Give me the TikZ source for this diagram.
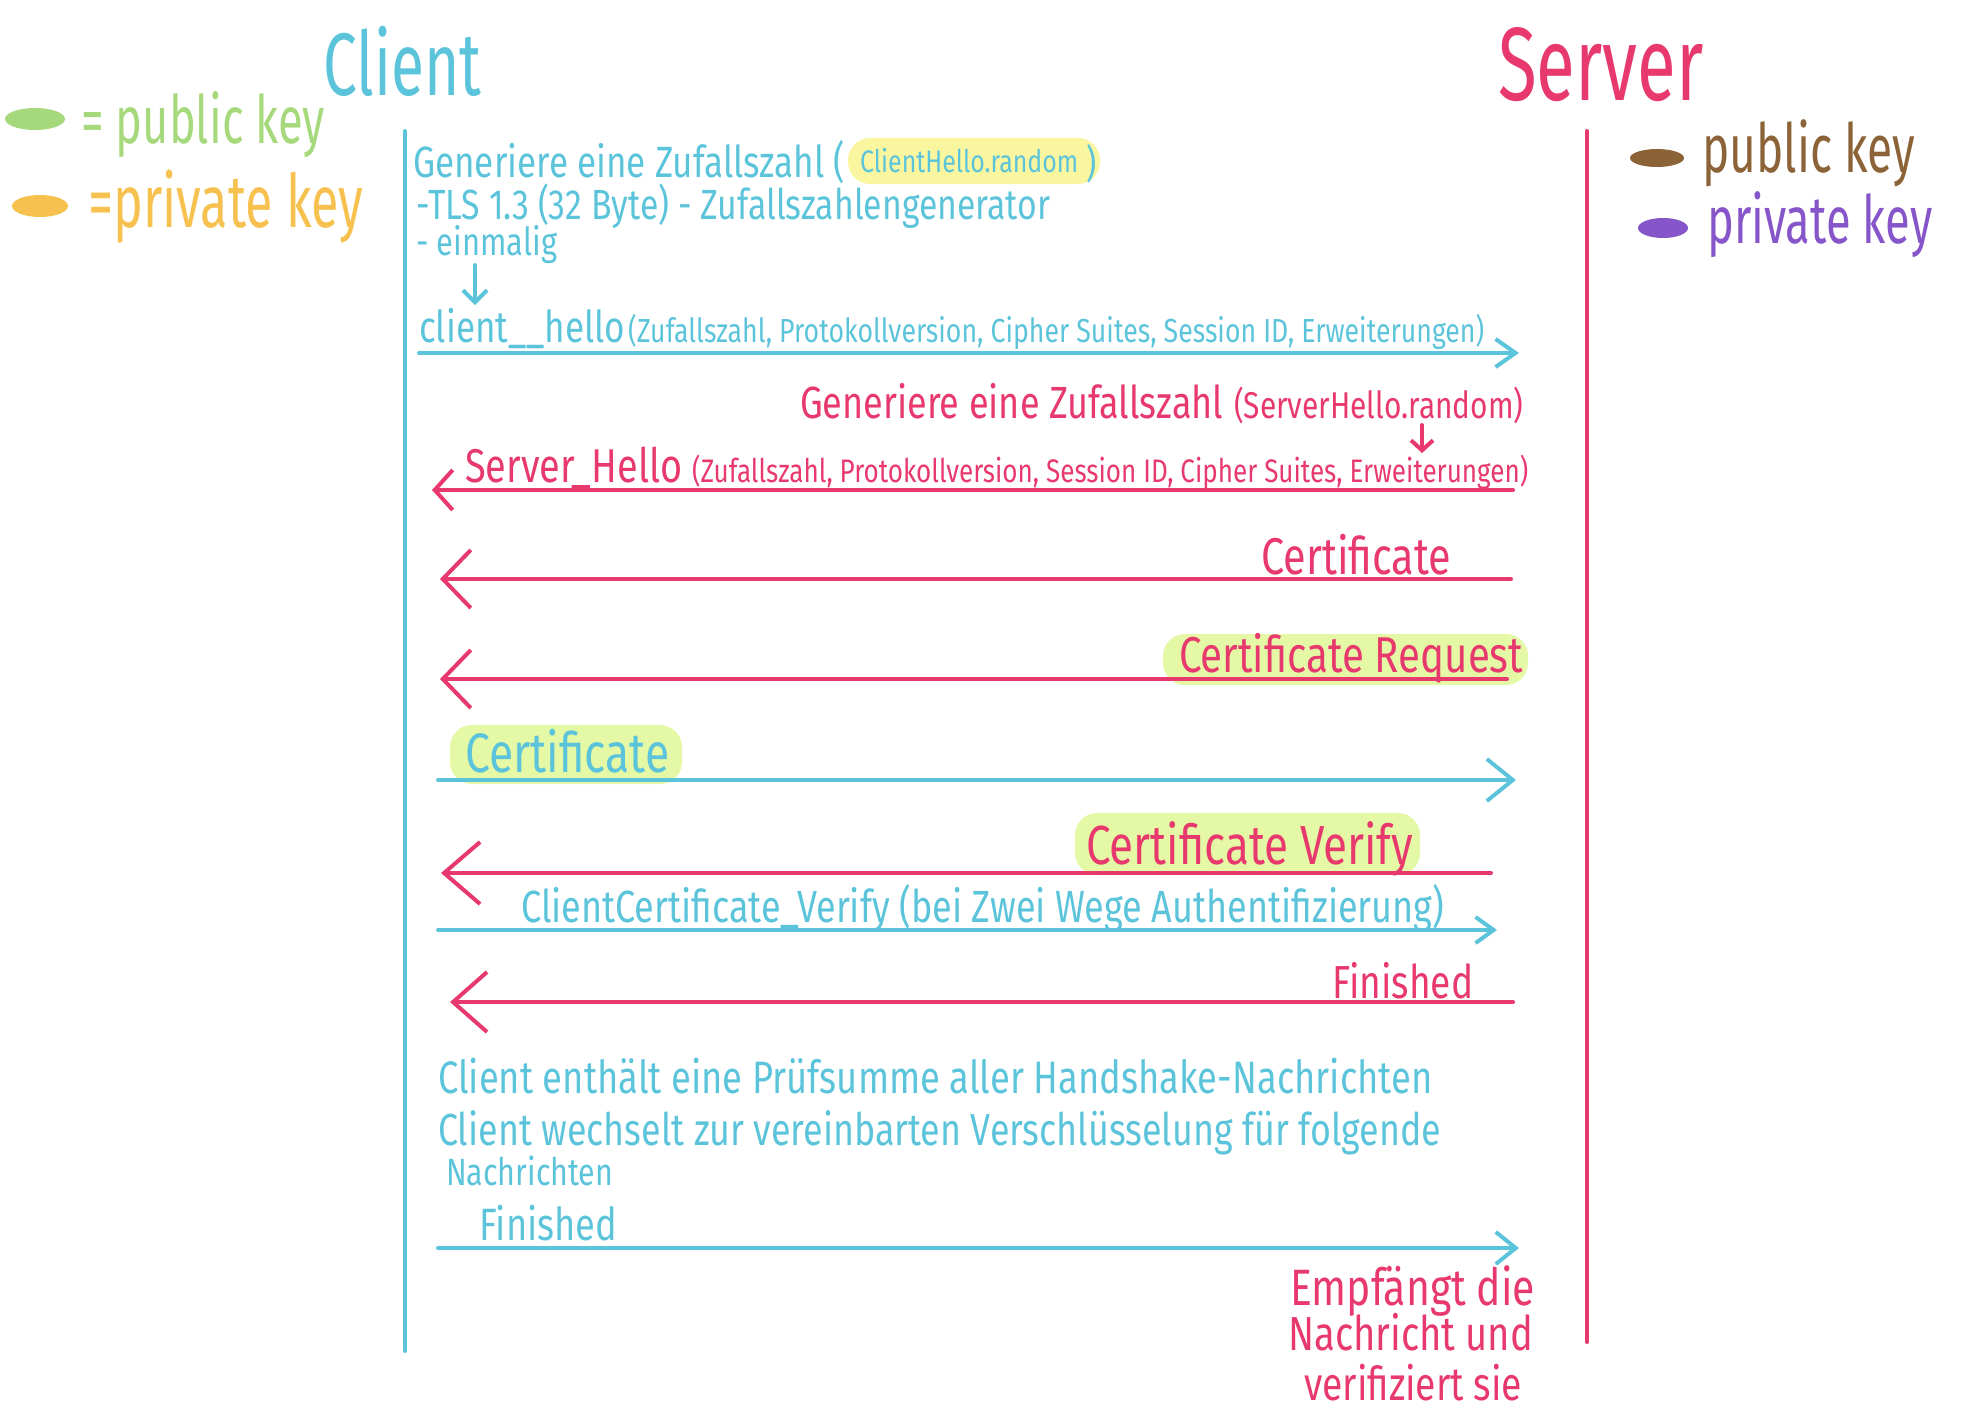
\documentclass[tikz,border=0pt]{standalone}
\usepackage{fontspec}
\setmainfont{Fira Sans}
\newfontfamily\hand[FakeStretch=0.8]{Fira Sans}
\newfontfamily\handtall[FakeStretch=0.68]{Fira Sans}
\usetikzlibrary{arrows.meta}
\definecolor{cblue}{RGB}{91,196,219}
\definecolor{cpink}{RGB}{232,57,111}
\definecolor{kgreen}{RGB}{166,217,124}
\definecolor{korange}{RGB}{246,193,79}
\definecolor{kbrown}{RGB}{139,99,55}
\definecolor{kpurple}{RGB}{134,85,201}
\definecolor{hlyellow}{RGB}{250,246,160}
\definecolor{hlgreen}{RGB}{228,248,165}
\newcommand{\fitw}[2]{\resizebox{#1pt}{!}{\hand #2}}
\newcommand{\fitt}[2]{\resizebox{#1pt}{!}{\handtall #2}}
\newcommand{\fith}[2]{\resizebox{!}{#1pt}{\hand #2}}
\begin{document}
\begin{tikzpicture}[x=1pt,y=-1pt,
  txt/.style={inner sep=0pt, anchor=base west},
  ctxt/.style={txt, text=cblue},
  stxt/.style={txt, text=cpink},
  life/.style={line width=4pt, line cap=round},
  cmsg/.style={line width=4pt, line cap=round, draw=cblue},
  smsg/.style={line width=4pt, line cap=round, draw=cpink},
  hl/.style={rounded corners=22pt}
]
\useasboundingbox (0,0) rectangle (1961,1414);

% titles
\node[ctxt] (tclient) at (323,95) {\fitt{158}{Client}};
\node[stxt] (tserver) at (1498,100) {\fitt{205}{Server}};

% legends
\fill[kgreen] (35,119) ellipse [x radius=30, y radius=11];
\node[txt, text=kgreen] (lpub) at (81,143) {\fitt{244}{= public key}};
\fill[korange] (40,206) ellipse [x radius=28, y radius=11];
\node[txt, text=korange] (lpriv) at (88,227) {\fitt{275}{=private key}};
\fill[kbrown] (1657,158) ellipse [x radius=27, y radius=9];
\node[txt, text=kbrown] (rpub) at (1702,172) {\fitt{213}{public key}};
\fill[kpurple] (1663,228) ellipse [x radius=25, y radius=10];
\node[txt, text=kpurple] (rpriv) at (1707,243) {\fitt{225}{private key}};

% lifelines
\coordinate (cTop) at (405,131);
\coordinate (cBot) at (405,1351);
\coordinate (sTop) at (1587,131);
\coordinate (sBot) at (1587,1342);
\draw[life, cblue] (cTop) -- (cBot);
\draw[life, cpink] (sTop) -- (sBot);

% highlights
\fill[hlyellow, hl] (848,138) rectangle (1100,184);
\fill[hlgreen, hl] (1163,634) rectangle (1528,685);
\fill[hlgreen, hl] (450,725) rectangle (682,784);
\fill[hlgreen, hl] (1075,813) rectangle (1420,875);

% client notes
\node[ctxt] (g1) at (413,177) {\fitw{432}{Generiere eine Zufallszahl (}};
\node[ctxt] (g1b) at (860,172) {\fitw{218}{ClientHello.random}};
\node[ctxt] (g1c) at (1086,177) {\fith{33}{)}};
\node[ctxt] (g2) at (416,219) {\fitw{634}{-TLS 1.3 (32 Byte) - Zufallszahlengenerator}};
\node[ctxt] (g3) at (416,255) {\fitw{141}{- einmalig}};
\coordinate (d1a) at (475,265);
\coordinate (d1b) at (475,305);
\draw[cmsg, -{Straight Barb[length=12pt,width=24pt]}] (d1a) -- (d1b);

% client_hello
\node[ctxt] (g4a) at (419,342) {\fitw{206}{client\_\_hello}};
\node[ctxt] (g4b) at (628,342) {\fitw{856}{(Zufallszahl, Protokollversion, Cipher Suites, Session ID, Erweiterungen)}};
\coordinate (m1a) at (419,353);
\coordinate (m1b) at (1519,353);
\draw[cmsg, -{Straight Barb[length=20pt,width=28pt]}] (m1a) -- (m1b);

% server random
\node[stxt] (s1a) at (800,418) {\fitw{423}{Generiere eine Zufallszahl}};
\node[stxt] (s1b) at (1234,418) {\fitw{289}{(ServerHello.random)}};
\coordinate (d2a) at (1422,425);
\coordinate (d2b) at (1422,453);
\draw[smsg, -{Straight Barb[length=10pt,width=22pt]}] (d2a) -- (d2b);

% server hello
\node[stxt] (s2a) at (465,482) {\fitw{217}{Server\_Hello}};
\node[stxt] (s2b) at (692,482) {\fitw{836}{(Zufallszahl, Protokollversion, Session ID, Cipher Suites, Erweiterungen)}};
\coordinate (m2a) at (1513,490);
\coordinate (m2b) at (432,490);
\draw[smsg, -{Straight Barb[length=18pt,width=40pt]}] (m2a) -- (m2b);

% certificate
\node[stxt] (c1) at (1261,574) {\fitw{190}{Certificate}};
\coordinate (m3a) at (1511,579);
\coordinate (m3b) at (440,579);
\draw[smsg, -{Straight Barb[length=28pt,width=58pt]}] (m3a) -- (m3b);

% certificate request
\node[stxt] (c2) at (1179,672) {\fitw{344}{Certificate Request}};
\coordinate (m4a) at (1507,679);
\coordinate (m4b) at (440,679);
\draw[smsg, -{Straight Barb[length=28pt,width=58pt]}] (m4a) -- (m4b);

% client certificate
\node[ctxt] (c3) at (465,772) {\fitw{204}{Certificate}};
\coordinate (m5a) at (438,780);
\coordinate (m5b) at (1516,780);
\draw[cmsg, -{Straight Barb[length=26pt,width=42pt]}] (m5a) -- (m5b);

% certificate verify
\node[stxt] (c4) at (1086,864) {\fitw{327}{Certificate Verify}};
\coordinate (m6a) at (1491,873);
\coordinate (m6b) at (441,873);
\draw[smsg, -{Straight Barb[length=36pt,width=62pt]}] (m6a) -- (m6b);

% client certificate verify
\node[ctxt] (c5) at (521,922) {\fitw{923}{ClientCertificate\_Verify (bei Zwei Wege Authentifizierung)}};
\coordinate (m7a) at (438,930);
\coordinate (m7b) at (1497,930);
\draw[cmsg, -{Straight Barb[length=18pt,width=26pt]}] (m7a) -- (m7b);

% finished (server)
\node[stxt] (c6) at (1332,998) {\fitw{141}{Finished}};
\coordinate (m8a) at (1513,1002);
\coordinate (m8b) at (450,1002);
\draw[smsg, -{Straight Barb[length=34pt,width=60pt]}] (m8a) -- (m8b);

% client notes
\node[ctxt] (c7) at (438,1093) {\fitw{994}{Client enthält eine Prüfsumme aller Handshake-Nachrichten}};
\node[ctxt] (c8) at (438,1145) {\fitw{1003}{Client wechselt zur vereinbarten Verschlüsselung für folgende}};
\node[ctxt] (c9) at (446,1185) {\fitw{167}{Nachrichten}};

% finished (client)
\node[ctxt] (c10) at (479,1240) {\fitw{138}{Finished}};
\coordinate (m9a) at (438,1248);
\coordinate (m9b) at (1519,1248);
\draw[cmsg, -{Straight Barb[length=20pt,width=32pt]}] (m9a) -- (m9b);

% server receives
\node[stxt] (e1) at (1290,1305) {\fitw{245}{Empfängt die}};
\node[stxt] (e2) at (1288,1350) {\fitw{245}{Nachricht und}};
\node[stxt] (e3) at (1304,1400) {\fitw{218}{verifiziert sie}};
\end{tikzpicture}
\end{document}
